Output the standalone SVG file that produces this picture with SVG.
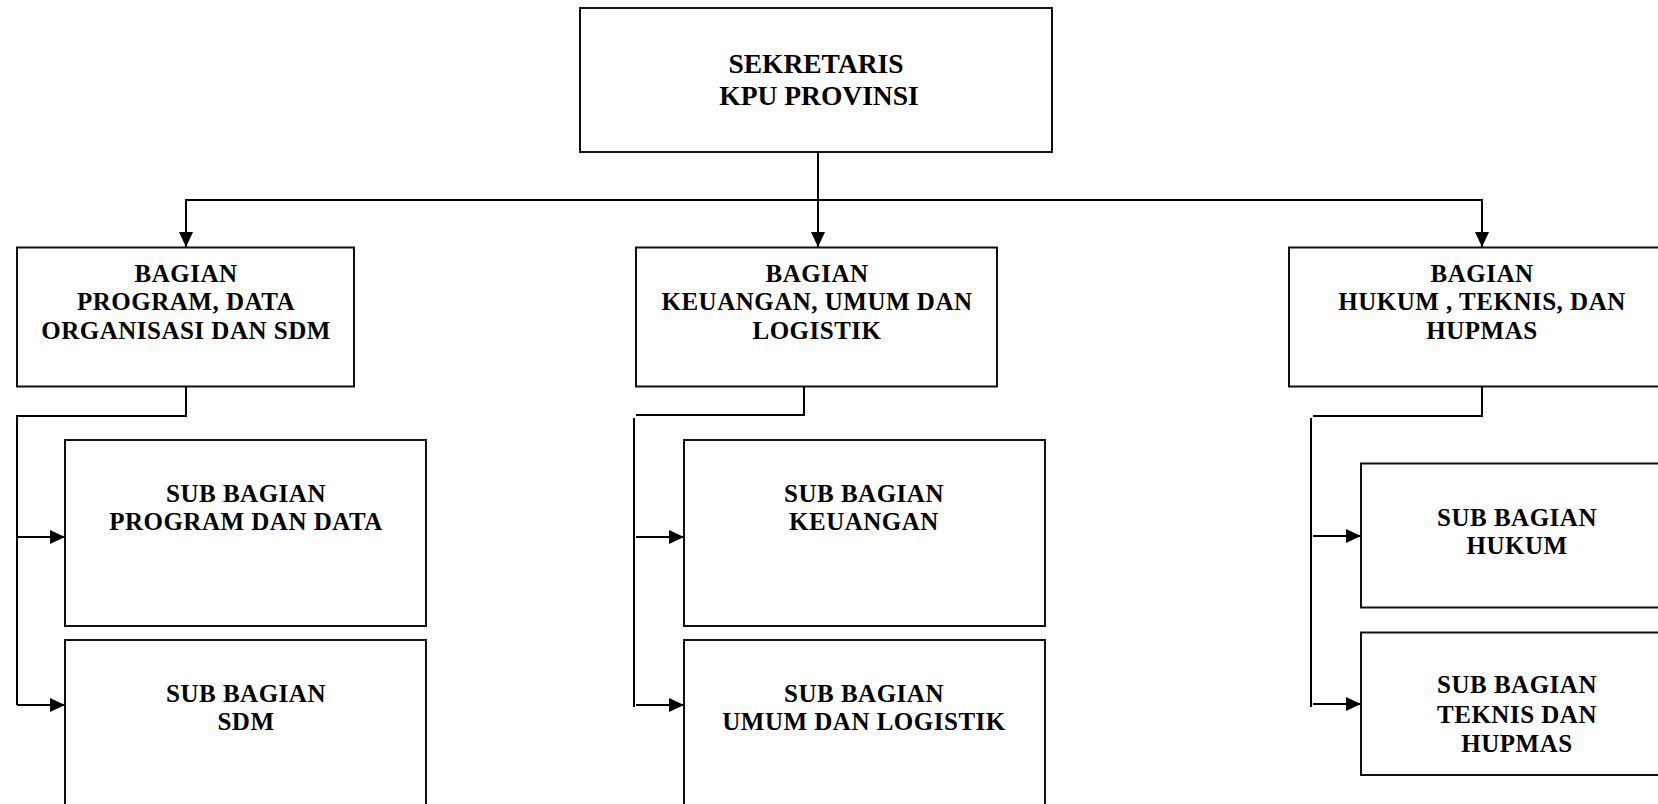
<svg xmlns="http://www.w3.org/2000/svg" width="1658" height="804" viewBox="0 0 1658 804">
<defs>
<style>
.box{fill:#fff;stroke:#111;stroke-width:2}
.ln{fill:none;stroke:#000;stroke-width:2}
.t{font-family:"Liberation Serif","Times New Roman",serif;font-weight:bold;fill:#000;text-anchor:middle}
.top{font-size:27.5px}
.sm{font-size:25px;letter-spacing:0.5px}
</style>
<marker id="arr" markerWidth="15" markerHeight="14" viewBox="0 0 15 14" refX="15" refY="7" orient="auto" markerUnits="userSpaceOnUse">
<path d="M0,0 L15,7 L0,14 Z" fill="#000"/>
</marker>
</defs>
<rect width="1658" height="804" fill="#fff"/>
<g id="connectors">
<path class="ln" d="M818,152 V247" marker-end="url(#arr)"/>
<path class="ln" d="M185,200 H1483"/>
<path class="ln" d="M186,199 V247" marker-end="url(#arr)"/>
<path class="ln" d="M1482,199 V247" marker-end="url(#arr)"/>
<path class="ln" d="M186,387 V416 H17 V705"/>
<path class="ln" d="M17,537 H65" marker-end="url(#arr)"/>
<path class="ln" d="M17,705 H65" marker-end="url(#arr)"/>
<path class="ln" d="M804,387 V415 H636"/>
<path class="ln" d="M634,418 V707"/>
<path class="ln" d="M636,537 H684" marker-end="url(#arr)"/>
<path class="ln" d="M636,705 H684" marker-end="url(#arr)"/>
<path class="ln" d="M1482,387 V416 H1313"/>
<path class="ln" d="M1311,418 V707"/>
<path class="ln" d="M1313,536 H1361" marker-end="url(#arr)"/>
<path class="ln" d="M1313,704 H1361" marker-end="url(#arr)"/>
</g>
<g id="sekretaris">
<rect class="box" x="580" y="8" width="472" height="144"/>
<text class="t top" x="816" y="73">SEKRETARIS</text>
<text class="t top" x="819" y="105">KPU PROVINSI</text>
</g>
<g id="bagian-program">
<rect class="box" x="17" y="247.5" width="337" height="139"/>
<text class="t sm" x="186" y="282">BAGIAN</text>
<text class="t sm" x="186" y="310">PROGRAM, DATA</text>
<text class="t sm" x="186" y="339">ORGANISASI DAN SDM</text>
</g>
<g id="bagian-keuangan">
<rect class="box" x="636" y="247.5" width="361" height="139"/>
<text class="t sm" x="817" y="282">BAGIAN</text>
<text class="t sm" x="817" y="310">KEUANGAN, UMUM DAN</text>
<text class="t sm" x="817" y="339">LOGISTIK</text>
</g>
<g id="bagian-hukum">
<rect class="box" x="1289" y="247.5" width="386" height="139"/>
<text class="t sm" x="1482" y="282">BAGIAN</text>
<text class="t sm" x="1482" y="310">HUKUM , TEKNIS, DAN</text>
<text class="t sm" x="1482" y="339">HUPMAS</text>
</g>
<g id="sub-program-data">
<rect class="box" x="65" y="440" width="361" height="186"/>
<text class="t sm" x="246" y="502">SUB BAGIAN</text>
<text class="t sm" x="246" y="530">PROGRAM DAN DATA</text>
</g>
<g id="sub-sdm">
<rect class="box" x="65" y="640" width="361" height="190"/>
<text class="t sm" x="246" y="702">SUB BAGIAN</text>
<text class="t sm" x="246" y="730">SDM</text>
</g>
<g id="sub-keuangan">
<rect class="box" x="684" y="440" width="361" height="186"/>
<text class="t sm" x="864" y="502">SUB BAGIAN</text>
<text class="t sm" x="864" y="530">KEUANGAN</text>
</g>
<g id="sub-umum">
<rect class="box" x="684" y="640" width="361" height="190"/>
<text class="t sm" x="864" y="702">SUB BAGIAN</text>
<text class="t sm" x="864" y="730">UMUM DAN LOGISTIK</text>
</g>
<g id="sub-hukum">
<rect class="box" x="1361" y="463.5" width="312" height="144"/>
<text class="t sm" x="1517" y="526">SUB BAGIAN</text>
<text class="t sm" x="1517" y="554">HUKUM</text>
</g>
<g id="sub-teknis">
<rect class="box" x="1361" y="632.5" width="312" height="142.5"/>
<text class="t sm" x="1517" y="693">SUB BAGIAN</text>
<text class="t sm" x="1517" y="723">TEKNIS DAN</text>
<text class="t sm" x="1517" y="752">HUPMAS</text>
</g>
</svg>
